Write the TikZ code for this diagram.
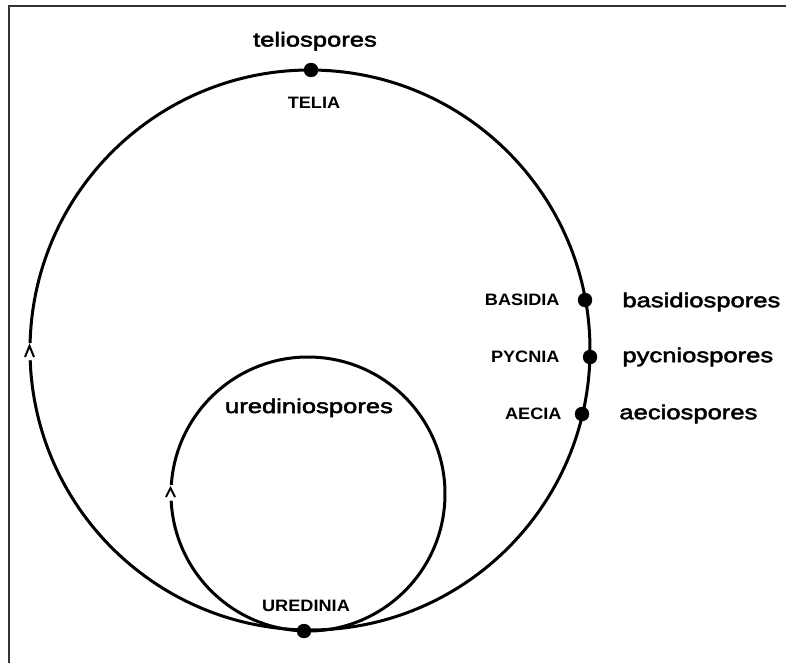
\documentclass[tikz,border=0pt]{standalone}
\usepackage{fontspec}
\usetikzlibrary{positioning}
\newfontfamily\sporefont[FakeStretch=1.28,FakeBold=2.5]{Liberation Sans}
\newfontfamily\stagefont[FakeStretch=1.1]{Liberation Sans Bold}

\begin{document}
\begin{tikzpicture}[
    x=1pt, y=-1pt,
    dot/.style={
        draw,
        fill=black,
        circle,
        inner sep=0pt,
        minimum size=14pt},
    spore/.style={font=\sporefont\fontsize{20}{24}\selectfont, inner sep=0pt},
    stage/.style={font=\stagefont\fontsize{16.5}{20}\selectfont, inner sep=0pt},
    ring/.style={line width=3pt},
    chevron/.style={line width=2pt},
    rim/.style={line width=2pt, black!80}]
    \useasboundingbox (0,0) rectangle (786,663);
    \draw[rim] (786,6) -| (9,663);

    \coordinate (big) at (310,350);
    \coordinate (small) at (308,494);
    \draw[ring] ([shift={(181.4:280)}]big) arc[start angle=181.4, end angle=537.9, radius=280];
    \draw[ring] ([shift={(183.8:137)}]small) arc[start angle=183.8, end angle=537.2, radius=137];
    \draw[chevron] (25,357) -- (29.5,346) -- (34,357);
    \draw[chevron] (166,497) -- (170.5,488) -- (175,497);

    \node[dot] (T) at (311,70) {};
    \node[dot] (B) at (585,300) {};
    \node[dot] (P) at (590,357) {};
    \node[dot] (A) at (582,414) {};
    \node[dot] (U) at (304,631) {};

    \node[spore, above=12pt of T, xshift=4pt] (Tsp) {teliospores};
    \node[stage, below=20pt of T, xshift=3pt] (Tst) {TELIA};
    \node[stage, left=18pt of B] (Bst) {BASIDIA};
    \node[spore, right=30pt of B, yshift=-2pt] (Bsp) {basidiospores};
    \node[stage, left=23pt of P] (Pst) {PYCNIA};
    \node[spore, right=25pt of P] (Psp) {pycniospores};
    \node[stage, left=13pt of A] (Ast) {AECIA};
    \node[spore, right=30pt of A] (Asp) {aeciospores};
    \node[stage, above=12pt of U, xshift=2pt] (Ust) {UREDINIA};
    \node[spore, anchor=base] (Usp) at (309,413) {urediniospores};
\end{tikzpicture}
\end{document}
